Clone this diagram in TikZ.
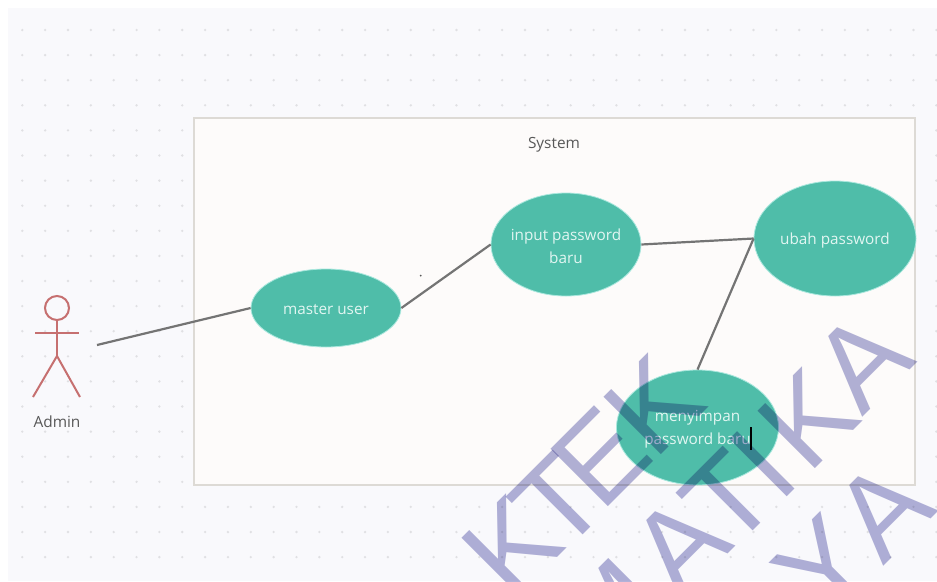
\documentclass[tikz,border=0pt]{standalone}
\usepackage{fontspec}
\setmainfont{Open Sans}
\newfontfamily\wmfont{Liberation Sans}
\usetikzlibrary{shapes.geometric}
\definecolor{canvasbg}{RGB}{249,249,252}
\definecolor{griddot}{RGB}{224,224,227}
\definecolor{sysfill}{RGB}{253,251,250}
\definecolor{sysline}{RGB}{221,218,213}
\definecolor{ucfill}{RGB}{79,189,169}
\definecolor{uchalo}{RGB}{170,232,222}
\definecolor{uctext}{RGB}{226,246,242}
\definecolor{linkgray}{RGB}{116,116,116}
\definecolor{actorred}{RGB}{198,112,112}
\definecolor{labelgray}{RGB}{88,88,88}
\definecolor{wmblue}{RGB}{178,178,216}
\tikzset{
  uclabel/.style={text=uctext, align=center, inner sep=0pt, yshift=-2pt,
    font=\fontsize{15.3}{23}\selectfont},
  usecase/.style n args={3}{ellipse, fill=ucfill, draw=uchalo, line width=0.8pt, inner sep=0pt,
    minimum width=#1, minimum height=#2, label={[uclabel]center:{#3}}},
  link/.style={draw=linkgray, line width=2.2pt},
  actorline/.style={draw=actorred, line width=2pt},
  plainlabel/.style={text=labelgray, inner sep=0pt, font=\fontsize{15.4}{18}\selectfont},
  wm/.style={text=wmblue, rotate=45, inner sep=0pt, font=\wmfont\fontsize{118}{118}\selectfont},
}
\begin{document}
\begin{tikzpicture}[x=1pt,y=-1pt]
\useasboundingbox (0,0) rectangle (937,581);
\fill[white] (0,0) rectangle (937,581);
\fill[canvasbg] (8,8) rectangle (937,581);
% dotted canvas
\foreach \i in {0,...,40}{
  \foreach \j in {0,...,21}{
    \fill[griddot] ({22.3+22.85*\i},{30+25.1*\j}) circle[radius=1.3];
  }
}
% system boundary
\node[draw=sysline, fill=sysfill, line width=2pt, minimum width=721pt, minimum height=367pt, inner sep=0pt] (system) at (554.5,301.5) {};
\node[plainlabel] (systemlabel) at (554,144.5) {System};
% actor
\draw[actorline] (57,308) circle[radius=12];
\coordinate (neck) at (57,320);
\coordinate (hip) at (57,356);
\coordinate (handl) at (35,333);
\coordinate (handr) at (79,333);
\coordinate (footl) at (33,397);
\coordinate (footr) at (80,397);
\draw[actorline] (neck) -- (hip);
\draw[actorline] (handl) -- (handr);
\draw[actorline] (footl) -- (hip) -- (footr);
\node[plainlabel] (adminlabel) at (57,422) {Admin};
\coordinate (adminend) at (97,345);
% use cases
\node[usecase={150pt}{78pt}{master user}] (master) at (326,308) {};
\node[usecase={150pt}{103pt}{input password\\baru}] (input) at (566,244.5) {};
\node[usecase={162pt}{115pt}{ubah password}] (ubah) at (835,238.5) {};
\node[usecase={162pt}{115pt}{menyimpan\\password baru}] (simpan) at (697.5,427.5) {};
% connectors
\draw[link] (adminend) -- (master.west);
\draw[link] (master.east) -- (input.west);
\draw[link] (input.east) -- (ubah.west);
\draw[link] (simpan.north) -- (ubah.west);
% text cursor and speck
\coordinate (curtop) at (751,427);
\coordinate (curbot) at (751,450);
\draw[black, line width=1.2pt] (curtop) -- (curbot);
\fill[labelgray] (420.7,275.7) circle[radius=1];
% watermark
\begin{scope}[blend mode=multiply]
\node[wm] (w1) at (512,546) {K};
\node[wm] (w2) at (558,502) {T};
\node[wm] (w3) at (601,457) {E};
\node[wm] (w4) at (654,405) {K};
\node[wm] (w5) at (610,615) {M};
\node[wm] (w6) at (680,545) {A};
\node[wm] (w7) at (728,498) {T};
\node[wm] (w8) at (762,464) {I};
\node[wm] (w9) at (808,419) {K};
\node[wm] (w10) at (862,361) {A};
\node[wm] (w11) at (824,566) {Y};
\node[wm] (w12) at (883,510) {A};
\end{scope}
\end{tikzpicture}
\end{document}
